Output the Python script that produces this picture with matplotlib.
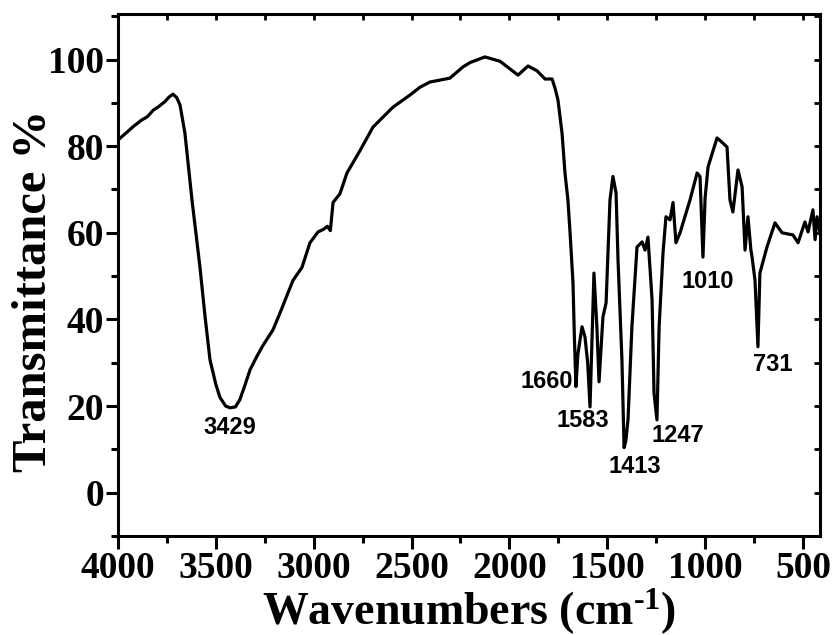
import matplotlib
matplotlib.use('Agg')
import matplotlib.pyplot as plt
from matplotlib.ticker import MultipleLocator

# FTIR spectrum (wavenumber cm-1, transmittance %)
wavenumber = [4000, 3960, 3920, 3880, 3850, 3820, 3790, 3760, 3740, 3719,
              3700, 3683, 3658, 3622, 3581, 3555, 3530, 3500, 3479, 3450,
              3428, 3400, 3377, 3350, 3325, 3290, 3259, 3208, 3172, 3106,
              3060, 3019, 2978, 2950, 2930, 2915, 2901, 2866, 2830, 2763,
              2697, 2595, 2508, 2457, 2406, 2304, 2237, 2201, 2125, 2048,
              1956, 1905, 1859, 1818, 1782, 1767, 1752, 1731, 1716, 1701,
              1690, 1675, 1668, 1660, 1650, 1629, 1614, 1600, 1588, 1578,
              1568, 1553, 1542, 1522, 1506, 1486, 1471, 1455, 1445, 1425,
              1414, 1405, 1394, 1374, 1348, 1322, 1307, 1292, 1271, 1261,
              1246, 1235, 1215, 1200, 1179, 1164, 1149, 1128, 1077, 1041,
              1026, 1011, 1000, 985, 939, 909, 888, 873, 858, 832,
              811, 796, 781, 766, 760, 745, 730, 720, 684, 643,
              607, 551, 525, 490, 474, 449, 438, 428, 413]
transmittance = [81.4, 83.0, 84.6, 86.0, 86.8, 88.3, 89.2, 90.3, 91.3, 92.0,
                 91.2, 89.5, 83.0, 67.6, 52.0, 40.6, 30.7, 25.0, 22.0, 20.0,
                 19.6, 19.8, 21.5, 25.0, 28.4, 31.5, 34.0, 37.6, 41.5, 49.0,
                 52.0, 57.7, 60.2, 60.8, 61.5, 60.5, 67.0, 69.0, 73.8, 79.0,
                 84.4, 89.0, 91.8, 93.6, 94.8, 95.7, 98.3, 99.3, 100.6, 99.6,
                 96.4, 98.5, 97.4, 95.5, 95.5, 93.4, 90.7, 83.0, 73.8, 67.6,
                 60.0, 48.4, 36.0, 24.5, 32.0, 38.3, 36.0, 30.0, 19.8, 35.0,
                 50.7, 38.3, 25.6, 40.6, 43.8, 67.6, 73.0, 69.2, 53.7, 30.7,
                 10.4, 12.0, 16.8, 38.3, 56.7, 57.9, 56.0, 59.0, 44.5, 23.0,
                 16.8, 38.3, 55.4, 63.7, 63.0, 67.0, 57.7, 60.0, 67.6, 73.8,
                 73.0, 54.4, 68.0, 75.2, 81.9, 80.7, 79.8, 67.6, 64.8, 74.5,
                 70.6, 56.0, 63.7, 56.0, 54.4, 49.0, 33.7, 50.7, 56.7, 62.3,
                 60.0, 59.5, 57.7, 62.5, 60.2, 65.3, 58.4, 63.7, 60.0]

# peak labels: text, x, y (data coords of text centre)
peak_labels = ['3429', '1660', '1583', '1413', '1247', '1010', '731']
peak_x = [3428, 1808, 1624, 1358, 1138, 985, 653]
peak_y = [15.0, 25.6, 16.6, 6.0, 13.1, 48.7, 29.5]

plt.rcParams['mathtext.fontset'] = 'custom'
plt.rcParams['mathtext.rm'] = 'Liberation Serif:bold'
plt.rcParams['mathtext.default'] = 'rm'

fig = plt.figure(figsize=(8.38, 6.35), dpi=100)
ax = fig.add_axes([0.1408, 0.1559, 0.8377, 0.8220])

ax.plot(wavenumber, transmittance, color='black', lw=2.3)

ax.set_xlim(4000, 413)
ax.set_ylim(-10, 110.5)

serif = 'Liberation Serif'
ax.xaxis.set_major_locator(MultipleLocator(500))
ax.xaxis.set_minor_locator(MultipleLocator(250))
ax.yaxis.set_minor_locator(MultipleLocator(10))
ax.set_yticks([0, 20, 40, 60, 80, 100])

ax.tick_params(which='major', direction='out', length=9, width=2.2)
ax.tick_params(which='minor', direction='out', length=5, width=2.2)
ax.tick_params(axis='x', pad=2)
ax.tick_params(axis='y', pad=1)
for lab in ax.get_xticklabels() + ax.get_yticklabels():
    lab.set_fontfamily(serif)
    lab.set_fontweight('bold')
    lab.set_fontsize(27)

for sp in ax.spines.values():
    sp.set_linewidth(2.2)

# inward ticks on top and right
top = ax.secondary_xaxis('top')
top.xaxis.set_major_locator(MultipleLocator(250))
top.tick_params(direction='in', length=4, width=2, labeltop=False)
right = ax.secondary_yaxis('right')
right.yaxis.set_major_locator(MultipleLocator(10))
right.tick_params(direction='in', length=4, width=2, labelright=False)

ax.set_xlabel('Wavenumbers (cm$^{\u20101}$)', fontfamily=serif, fontweight='bold',
              fontsize=33, labelpad=0)
fig.text(0.040, 0.542, 'Transmittance %', rotation=90, ha='center', va='center',
         fontfamily=serif, fontweight='bold', fontsize=35)

for t, x, y in zip(peak_labels, peak_x, peak_y):
    ax.text(x, y, t, ha='center', va='center', fontsize=17, fontweight='bold',
            family='Liberation Sans')

fig.savefig('out.png', dpi=100)
